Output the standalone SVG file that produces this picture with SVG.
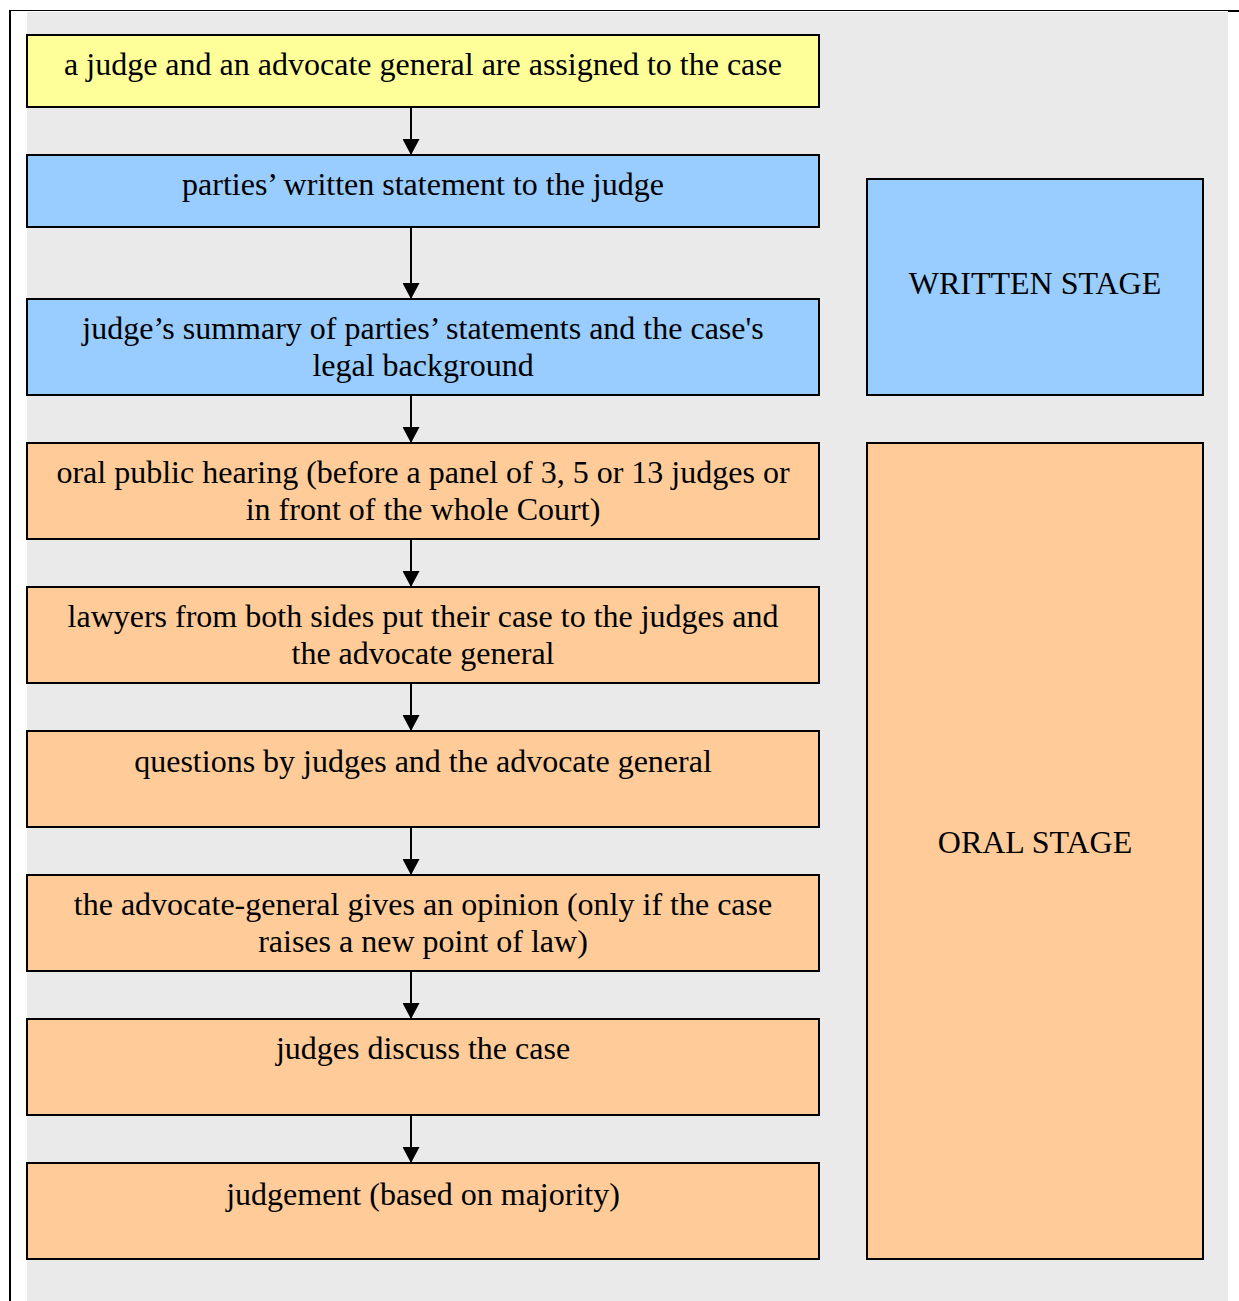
<svg xmlns="http://www.w3.org/2000/svg" width="1239" height="1301" viewBox="0 0 1239 1301">
<defs>
<style>
.box{stroke:#000;stroke-width:2}
.y{fill:#FFFF99}
.b{fill:#99CCFF}
.o{fill:#FFCC99}
text{font-family:"Liberation Serif","Times New Roman",serif;font-size:32px;fill:#000;text-anchor:middle}
.conn{stroke:#000;stroke-width:2;fill:none;marker-end:url(#arr)}
</style>
<marker id="arr" viewBox="0 0 16 17" refX="16" refY="8.5" markerWidth="16" markerHeight="17" markerUnits="userSpaceOnUse" orient="auto">
<path d="M0,0 L16,8.5 L0,17 z" fill="#000"/>
</marker>
</defs>
<rect x="0" y="0" width="1239" height="1301" fill="#fff"/>
<rect x="27" y="12" width="1201" height="1289" fill="#EAEAEA"/>
<line x1="9" y1="10.5" x2="1228" y2="10.5" stroke="#000" stroke-width="1"/>
<line x1="1228" y1="11" x2="1239" y2="11" stroke="#000" stroke-width="2"/>
<line x1="10" y1="10" x2="10" y2="1301" stroke="#000" stroke-width="2"/>
<g id="n1"><rect class="box y" x="27" y="35" width="792" height="72"/><text x="423" y="75">a judge and an advocate general are assigned to the case</text></g>
<g id="n2"><rect class="box b" x="27" y="155" width="792" height="72"/><text x="423" y="195">parties’ written statement to the judge</text></g>
<g id="n3"><rect class="box b" x="27" y="299" width="792" height="96"/><text x="423" y="339">judge’s summary of parties’ statements and the case's</text><text x="423" y="376">legal background</text></g>
<g id="n4"><rect class="box o" x="27" y="443" width="792" height="96"/><text x="423" y="483">oral public hearing (before a panel of 3, 5 or 13 judges or</text><text x="423" y="520">in front of the whole Court)</text></g>
<g id="n5"><rect class="box o" x="27" y="587" width="792" height="96"/><text x="423" y="627">lawyers from both sides put their case to the judges and</text><text x="423" y="664">the advocate general</text></g>
<g id="n6"><rect class="box o" x="27" y="731" width="792" height="96"/><text x="423" y="772">questions by judges and the advocate general</text></g>
<g id="n7"><rect class="box o" x="27" y="875" width="792" height="96"/><text x="423" y="915">the advocate-general gives an opinion (only if the case</text><text x="423" y="952">raises a new point of law)</text></g>
<g id="n8"><rect class="box o" x="27" y="1019" width="792" height="96"/><text x="423" y="1059">judges discuss the case</text></g>
<g id="n9"><rect class="box o" x="27" y="1163" width="792" height="96"/><text x="423" y="1205">judgement (based on majority)</text></g>
<g id="written"><rect class="box b" x="867" y="179" width="336" height="216"/><text x="1035" y="294">WRITTEN STAGE</text></g>
<g id="oral"><rect class="box o" x="867" y="443" width="336" height="816"/><text x="1035" y="853">ORAL STAGE</text></g>
<g id="connectors">
<line class="conn" x1="411" y1="107" x2="411" y2="155"/>
<line class="conn" x1="411" y1="227" x2="411" y2="299"/>
<line class="conn" x1="411" y1="395" x2="411" y2="443"/>
<line class="conn" x1="411" y1="539" x2="411" y2="587"/>
<line class="conn" x1="411" y1="683" x2="411" y2="731"/>
<line class="conn" x1="411" y1="827" x2="411" y2="875"/>
<line class="conn" x1="411" y1="971" x2="411" y2="1019"/>
<line class="conn" x1="411" y1="1115" x2="411" y2="1163"/>
</g>
</svg>
